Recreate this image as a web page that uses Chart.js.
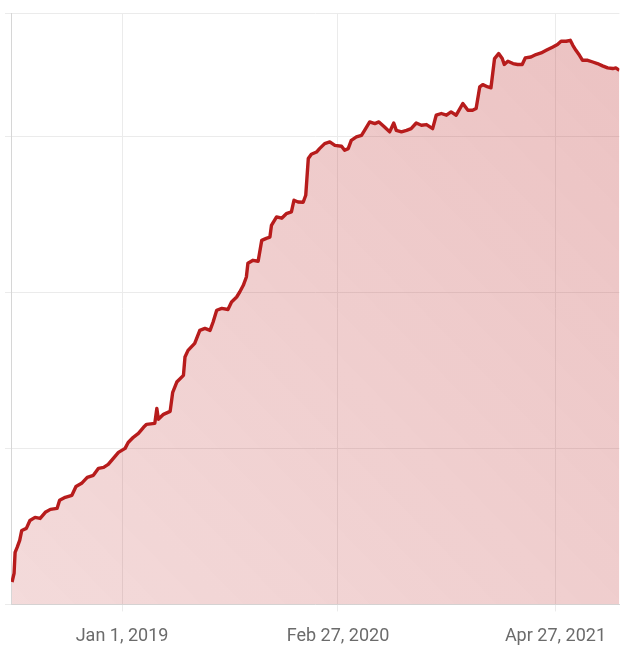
<!DOCTYPE html>
<html>
<head>
<meta charset="utf-8">
<script src="https://cdn.jsdelivr.net/npm/chart.js@4"></script>
<style>
  html, body { margin: 0; padding: 0; background: #fff; }
  #chart { display: block; }
</style>
</head>
<body>
<canvas id="chart" width="620" height="659"></canvas>
<script>
// days counted from Jan 1, 2019
const days = [
  -215, -211, -209, -205, -200, -196, -187, -180, -170, -160, -150, -140, -127, -122, -111, -98,
  -90, -79, -68, -56, -46, -36, -27, -17, -7, 6, 12, 22, 32, 42, 48, 64, 68, 71, 81, 94,
  99, 107, 120, 123, 129, 142, 152, 162, 172, 178, 185, 195, 207, 214, 224, 230, 237, 243,
  246, 256, 266, 273, 282, 289, 292, 302, 312, 321, 331, 336, 344, 354, 359, 364, 370, 380,
  386, 396, 406, 416, 429, 435, 442, 448, 458, 468, 474, 484, 494, 502, 513, 523, 531, 536,
  546, 556, 565, 575, 585, 595, 607, 614, 624, 634, 643, 653, 666, 676, 685, 692, 699, 705,
  715, 721, 728, 736, 743, 747, 754, 764, 773, 782, 788, 799, 809, 819, 829, 842, 851, 858,
  868, 876, 881, 887, 894, 900, 910, 920, 929, 939, 949, 959, 965, 972
];
const values = [
  14.3, 19.9, 33.3, 36.5, 41.0, 47.4, 48.7, 53.8, 55.8, 55.1, 59.0, 60.9, 61.5, 66.7, 68.6, 69.9,
  75.6, 77.6, 81.4, 82.7, 87.2, 87.8, 89.7, 93.6, 97.4, 100.0, 103.8, 107.1, 109.6, 113.5, 115.4, 116.0, 125.6, 118.6, 121.8, 123.7,
  135.9, 142.5, 146.8, 158.5, 162.8, 167.3, 175.6, 176.9, 175.6, 181.0, 188.5, 189.7, 189.0, 193.8, 197.0, 200.2, 204.5, 209.8,
  218.6, 220.5, 219.9, 233.3, 234.6, 235.4, 242.9, 248.3, 247.5, 250.4, 251.5, 259.0, 257.9, 257.7, 262.2, 285.7, 288.5, 289.9,
  292.1, 295.3, 296.4, 294.2, 293.6, 291.0, 292.1, 297.4, 299.6, 300.6, 303.8, 309.2, 308.1, 309.2, 306.0, 302.8, 308.5, 303.8,
  302.8, 303.8, 304.9, 308.5, 307.1, 307.5, 304.9, 313.5, 314.6, 313.5, 315.6, 313.5, 321.0, 316.7, 316.7, 317.8, 331.6, 333.1,
  331.6, 331.1, 349.8, 353.0, 349.8, 346.0, 348.1, 346.6, 346.0, 346.0, 350.2, 350.8, 352.4, 353.4, 355.1, 357.2, 358.8, 360.9,
  360.9, 361.5, 358.3, 355.1, 351.9, 348.7, 348.7, 347.6, 346.6, 345.1, 343.8, 343.4, 343.8, 342.3
];
const tickDays = [0, 422, 847];
const tickLabels = ['Jan 1, 2019', 'Feb 27, 2020', 'Apr 27, 2021'];

const points = days.map((d, i) => ({ x: d, y: values[i] }));

function areaFill(context) {
  const area = context.chart.chartArea;
  if (!area) return 'rgba(183, 28, 28, 0.2)';
  const g = context.chart.ctx.createLinearGradient(area.right, area.top, area.left, area.bottom);
  g.addColorStop(0, 'rgba(183, 28, 28, 0.27)');
  g.addColorStop(1, 'rgba(183, 28, 28, 0.16)');
  return g;
}

new Chart(document.getElementById('chart'), {
  type: 'line',
  data: {
    datasets: [{
      data: points,
      borderColor: '#b71c1c',
      borderWidth: 3.4,
      borderJoinStyle: 'round',
      backgroundColor: areaFill,
      fill: 'origin',
      pointRadius: 0,
      tension: 0
    }]
  },
  options: {
    responsive: false,
    animation: false,
    layout: { padding: { left: 5, top: 13, right: 0, bottom: -2 } },
    plugins: { legend: { display: false }, tooltip: { enabled: false } },
    scales: {
      x: {
        type: 'linear',
        min: -217,
        max: 972,
        afterBuildTicks: (scale) => { scale.ticks = tickDays.map(v => ({ value: v })); },
        grid: { color: '#ebebeb', tickLength: 7, drawTicks: true },
        border: { color: '#d6d6d6' },
        ticks: {
          autoSkip: false,
          maxRotation: 0,
          padding: 14,
          color: '#6b6b6b',
          font: { family: 'Roboto', size: 18 },
          callback: (value) => tickLabels[tickDays.indexOf(value)] || ''
        }
      },
      y: {
        min: 0,
        max: 379,
        ticks: { display: false, stepSize: 100 },
        grid: { color: '#ebebeb', tickLength: 6 },
        border: { color: '#d6d6d6' }
      }
    }
  }
});
</script>
</body>
</html>
